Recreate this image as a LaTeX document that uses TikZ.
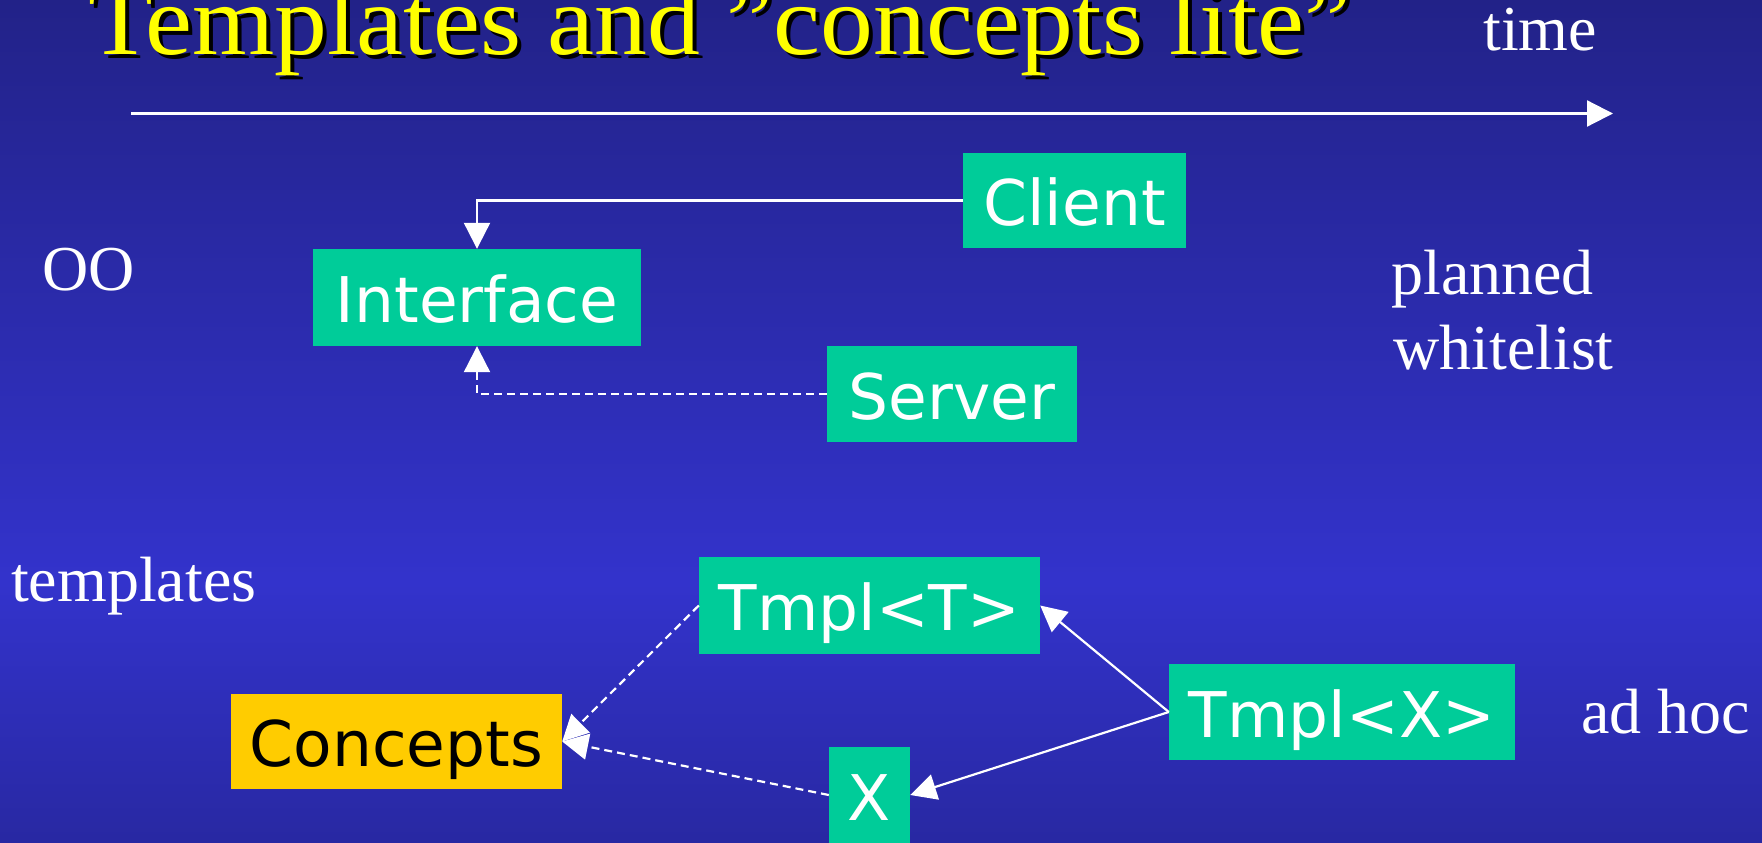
\documentclass[tikz,border=0pt]{standalone}
\usepackage{fontspec}
\setmainfont{Liberation Serif}
\newfontfamily\boxfont{DejaVu Sans}
\usetikzlibrary{arrows.meta}

\definecolor{bgtop}{RGB}{34,34,136}
\definecolor{bgmid}{RGB}{51,51,204}
\definecolor{bgbot}{RGB}{40,40,162}
\definecolor{boxgreen}{RGB}{0,204,153}
\definecolor{boxyellow}{RGB}{255,204,0}
\definecolor{titleyellow}{RGB}{255,255,0}

\newcommand\titletext{\fontsize{100}{100}\selectfont\scalebox{1.057}[1]{Templates and ”concepts lite”}}

\tikzset{
  box/.style={fill=boxgreen, inner sep=0pt, text=white,
    font=\boxfont\fontsize{63}{63}\selectfont,
    text height=50pt, text depth=0pt},
  lab/.style={anchor=base west, inner sep=0pt, text=white,
    font=\fontsize{64}{64}\selectfont},
  arr/.style={draw=white, line width=2.2pt,
    -{Triangle[length=26pt,width=26pt]}},
  dsh/.style={dash pattern=on 8pt off 5pt},
}

\begin{document}
\begin{tikzpicture}[x=1pt, y=-1pt]
  \useasboundingbox (0,0) rectangle (1762,843);
  \clip (0,0) rectangle (1762,843);

  % background
  \fill[top color=bgtop, bottom color=bgmid] (0,0) rectangle (1762,584);
  \fill[top color=bgmid, bottom color=bgbot] (0,583) rectangle (1762,843);

  % title with drop shadow
  \node[anchor=base west, inner sep=0pt, text=black] (titleshadow) at (92,59) {\titletext};
  \node[anchor=base west, inner sep=0pt, text=titleyellow] (title) at (88,55) {\titletext};

  % time axis
  \node[lab] (time) at (1483,51) {time};
  \coordinate (t0) at (131,113.5);
  \coordinate (t1) at (1613,113.5);
  \draw[arr] (t0) -- (t1);

  % row labels
  \node[lab] (oo) at (42,290) {OO};
  \node[lab] (planned) at (1391,294) {planned};
  \node[lab] (whitelist) at (1393,369) {whitelist};
  \node[lab] (templates) at (11,601) {templates};
  \node[lab] (adhoc) at (1581,733) {ad hoc};

  % OO diagram
  \node[box, minimum width=223pt, minimum height=95pt] (client) at (1074.5,200.5) {Client};
  \node[box, minimum width=328pt, minimum height=97pt] (iface) at (477,297.5) {Interface};
  \node[box, minimum width=250pt, minimum height=96pt] (server) at (952,394) {Server};

  \draw[arr] (client.west) -| (iface.north);
  \draw[arr, dsh] (server.west) -| (iface.south);

  % template diagram
  \node[box, minimum width=341pt, minimum height=97pt] (tmplT) at (869.5,605.5) {Tmpl<T>};
  \node[box, minimum width=346pt, minimum height=96pt] (tmplX) at (1342,712) {Tmpl<X>};
  \node[box, fill=boxyellow, text=black, minimum width=331pt, minimum height=95pt] (concepts) at (396.5,741.5) {Concepts};
  \node[box, minimum width=81pt, minimum height=96pt] (xbox) at (869.5,795) {X};

  \draw[arr] (tmplX.west) -- (tmplT.east);
  \draw[arr] (tmplX.west) -- (xbox.east);
  \draw[arr, dsh] (tmplT.west) -- (concepts.east);
  \draw[arr, dsh] (xbox.west) -- (concepts.east);
\end{tikzpicture}
\end{document}
